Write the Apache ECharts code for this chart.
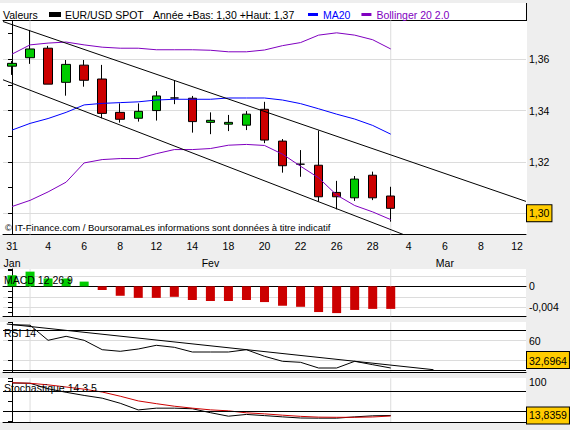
<!DOCTYPE html>
<html>
<head>
<meta charset="utf-8">
<title>EUR/USD SPOT</title>
<style>
html, body { margin: 0; padding: 0; background: #eeeeee; }
#chart { width: 570px; height: 430px; }
</style>
<script src="https://cdn.jsdelivr.net/npm/echarts@6/dist/echarts.min.js"></script>
</head>
<body>
<div id="chart"></div>
<script>
// jours de cotation (categories)
const dates = ['31/01', '01/02', '04/02', '05/02', '06/02', '07/02', '08/02', '11/02', '12/02', '13/02',
    '14/02', '15/02', '18/02', '19/02', '20/02', '21/02', '22/02', '25/02', '26/02', '27/02', '28/02',
    '01/03', '04/03', '05/03', '06/03', '07/03', '08/03', '11/03', '12/03'];
const monthNames = { '01': 'Jan', '02': 'Fev', '03': 'Mar' };
const monthLabelIdx = [0, 11, 24];

// bougies EUR/USD
const open  = [1.3573, 1.3606, 1.3643, 1.3510, 1.3577, 1.3523, 1.3393, 1.3370, 1.3400, 1.3449, 1.3448,
    1.3354, 1.3347, 1.3343, 1.3405, 1.3281, 1.3191, 1.3187, 1.3081, 1.3060, 1.3148, 1.3067];
const close = [1.3584, 1.3640, 1.3503, 1.3580, 1.3518, 1.3389, 1.3366, 1.3397, 1.3457, 1.3449, 1.3357,
    1.3362, 1.3354, 1.3386, 1.3285, 1.3185, 1.3191, 1.3064, 1.3064, 1.3133, 1.3060, 1.3019];
const low   = [1.3539, 1.3582, 1.3503, 1.3458, 1.3493, 1.3370, 1.3353, 1.3357, 1.3361, 1.3425, 1.3314,
    1.3308, 1.3320, 1.3324, 1.3273, 1.3158, 1.3142, 1.3045, 1.3015, 1.3048, 1.3051, 1.2967];
const high  = [1.3593, 1.3714, 1.3652, 1.3597, 1.3597, 1.3578, 1.3428, 1.3428, 1.3476, 1.3519, 1.3457,
    1.3393, 1.3383, 1.3398, 1.3434, 1.3289, 1.3246, 1.3322, 1.3126, 1.3145, 1.3162, 1.3103];

const ma20    = [1.3324, 1.3350, 1.3369, 1.3393, 1.3422, 1.3428, 1.3431, 1.3434, 1.3441, 1.3444, 1.3444,
    1.3444, 1.3449, 1.3449, 1.3449, 1.3441, 1.3427, 1.3407, 1.3386, 1.3367, 1.3342, 1.3308];
const bollUp  = [1.3620, 1.3656, 1.3663, 1.3667, 1.3656, 1.3647, 1.3643, 1.3643, 1.3637, 1.3637, 1.3637,
    1.3635, 1.3629, 1.3629, 1.3636, 1.3653, 1.3665, 1.3694, 1.3703, 1.3694, 1.3676, 1.3640];
const bollLow = [1.3026, 1.3050, 1.3083, 1.3121, 1.3196, 1.3209, 1.3213, 1.3213, 1.3232, 1.3248, 1.3248,
    1.3252, 1.3265, 1.3268, 1.3264, 1.3230, 1.3183, 1.3138, 1.3071, 1.3030, 1.3005, 1.2975];

// droites tracees (x = rang du jour)
const upperTrend = [[-0.5, 1.3747], [28.5, 1.3046]];
const lowerTrend = [[-0.5, 1.3520], [21.7, 1.2917]];

// indicateurs
const macdHist = [0.0021, 0.0028, 0.0015, 0.0015, 0.0009, -0.0007, -0.0018, -0.0022, -0.0022, -0.0020, -0.0026,
    -0.0028, -0.0028, -0.0026, -0.0030, -0.0037, -0.0039, -0.0049, -0.0051, -0.0045, -0.0043, -0.0043];
const rsi14 = [76.0, 75.5, 60.4, 64.4, 60.4, 51.0, 49.4, 51.7, 55.4, 53.4, 48.7,
    48.7, 48.7, 51.0, 44.4, 39.4, 38.4, 32.7, 32.7, 39.4, 36.0, 32.6964];
const rsiTrend = [[-0.29, 76.7], [23.37, 31.0]];
const stochK = [96.7, 96.0, 82.0, 73.0, 65.0, 58.0, 45.0, 28.0, 32.5, 32.5, 31.0,
    21.0, 12.0, 16.5, 13.5, 10.3, 7.4, 7.0, 7.0, 10.3, 13.0, 13.8359];
const stochD = [97.5, 96.0, 92.0, 86.5, 81.0, 73.7, 63.0, 51.0, 44.0, 37.5, 32.5,
    28.2, 25.7, 20.6, 18.0, 14.6, 11.6, 9.6, 9.2, 9.2, 10.0, 12.5];

// axes : bornes et libelles
const mainMin = 1.2917, mainMax = 1.3751, mainLabels = [1.30, 1.32, 1.34, 1.36];
const macdMin = -0.00571, macdMax = 0.0033, macdLabels = [0, -0.004];
const rsiMin = 28.7, rsiMax = 78.4, rsiLabels = [60], rsiLevels = [70, 30];
const stochMin = -2.8, stochMax = 108.7, stochLabels = [100], stochLevels = [75, 25];

const FONT = 'Liberation Sans';
const fmtComma = (v, d) => v.toFixed(d).replace('.', ',');
const inList = (list, v) => list.some(l => Math.abs(l - v) < 1e-7);
const monthStartIdx = dates.map((d, i) => i).filter(i => i > 0 && dates[i].slice(3) !== dates[i - 1].slice(3));
const lastClose = close[close.length - 1];
const rangeText = 'Année +Bas: ' + fmtComma(Math.min(...low), 2) + ' +Haut: ' + fmtComma(Math.max(...high), 2);

const grey = '#dcdcdc';
const green = '#00cc00';
const red = '#cc0000';
const purple = '#8000c0';

// lignes verticales de debut de mois (une serie par ligne, sur l'axe x numerique du panneau)
function monthLineSeries(xIdx, yIdx, yMin, yMax) {
    return monthStartIdx.map(i => ({
        type: 'line', xAxisIndex: xIdx, yAxisIndex: yIdx, z: 1, silent: true, symbol: 'none',
        data: [[i, yMin], [i, yMax]],
        lineStyle: { color: grey, width: 1 }
    }));
}
function valueBox(value, text, vAlign) {
    return {
        yAxis: value,
        lineStyle: { color: 'rgba(0,0,0,0)', width: 1 },
        label: {
            show: true, position: 'end', distance: 1, formatter: text,
            verticalAlign: vAlign,
            backgroundColor: '#ffcc00', borderColor: '#000', borderWidth: 1,
            padding: [3, 2, 2, 2], color: '#000', fontSize: 10.5, fontFamily: FONT
        }
    };
}
function levelLines(levels) {
    return levels.map(v => ({ yAxis: v, lineStyle: { color: '#000', type: 'solid', width: 1 }, label: { show: false } }));
}
const plainCat = (grid, pos, extra) => Object.assign({
    type: 'category', gridIndex: grid, data: dates, position: pos,
    axisLine: { onZero: false, lineStyle: { color: '#000' } },
    axisTick: { show: false }, axisLabel: { show: false }, splitLine: { show: false }
}, extra || {});
const hiddenX = grid => ({ type: 'value', gridIndex: grid, min: -0.5, max: 28.5, show: false });
const tickAxis = (grid, min, max, step, labels, fmt) => ({
    type: 'value', gridIndex: grid, position: 'right', min: min, max: max,
    minInterval: step, maxInterval: step,
    axisLine: { show: true, lineStyle: { color: '#000' } },
    axisTick: { show: true, inside: true, length: 4, lineStyle: { color: '#000' } },
    axisLabel: { margin: 3, color: '#000', fontSize: 10.5, fontFamily: FONT, formatter: v => inList(labels, v) ? fmt(v) : '' },
    splitLine: { show: false }
});
const gridAxis = (grid, min, max, step) => ({
    type: 'value', gridIndex: grid, position: 'right', min: min, max: max,
    minInterval: step, maxInterval: step,
    axisLine: { show: false }, axisTick: { show: false }, axisLabel: { show: false },
    splitLine: { show: true, showMinLine: false, showMaxLine: false, lineStyle: { color: grey } }
});
const plainLine = (name, xIdx, yIdx, data, color) => ({
    name: name, type: 'line', xAxisIndex: xIdx, yAxisIndex: yIdx, data: data, symbol: 'none', silent: true,
    itemStyle: { color: color }, lineStyle: { color: color, width: 1 }
});

const chart = echarts.init(document.getElementById('chart'), null, { renderer: 'svg' });
const option = {
    backgroundColor: '#eeeeee',
    animation: false,
    textStyle: { fontFamily: FONT, fontSize: 10.5, color: '#000' },
    grid: [
        { left: 3, right: 44, top: 20.5, height: 214 },
        { left: 3, right: 44, top: 269, height: 47.3 },
        { left: 3, right: 44, top: 322.3, height: 49.7 },
        { left: 3, right: 44, top: 378.3, height: 43.7 }
    ],
    legend: [
        {
            left: 49, top: 9, padding: 0, itemWidth: 10, itemHeight: 3, icon: 'rect', selectedMode: false,
            textStyle: { color: '#000', fontSize: 10.5, fontFamily: FONT },
            data: [{ name: 'EUR/USD SPOT', itemStyle: { color: '#000' } }]
        },
        {
            left: 308, top: 9, padding: 0, itemWidth: 10, itemHeight: 3, icon: 'rect', itemGap: 11, selectedMode: false,
            textStyle: { fontSize: 10.5, fontFamily: FONT },
            data: [
                { name: 'MA20', textStyle: { color: '#0000ff' } },
                { name: 'Bollinger 20 2.0', textStyle: { color: purple } }
            ]
        }
    ],
    xAxis: [
        {
            type: 'category', gridIndex: 0, data: dates, position: 'bottom',
            axisLine: { onZero: false, lineStyle: { color: '#000' } },
            axisTick: { alignWithLabel: true, interval: 0, length: 4, lineStyle: { color: '#000' } },
            axisLabel: { interval: 1, margin: 6, color: '#000', fontSize: 10.5, fontFamily: FONT, formatter: v => String(parseInt(v, 10)) },
            splitLine: { show: false }
        },
        {
            type: 'category', gridIndex: 0, data: dates, position: 'bottom', offset: 17,
            axisLine: { show: false, onZero: false }, axisTick: { show: false },
            axisLabel: { interval: 0, margin: 6, color: '#000', fontSize: 10.5, fontFamily: FONT,
                formatter: (v, i) => monthLabelIdx.includes(i) ? monthNames[v.slice(3)] : '' },
            splitLine: { show: false }
        },
        {
            type: 'value', gridIndex: 0, position: 'top', min: -0.5, max: 28.5,
            axisLine: { show: true, onZero: false, lineStyle: { color: '#000' } },
            axisTick: { show: false }, axisLabel: { show: false }, splitLine: { show: false }
        },
        plainCat(1, 'top', { axisLine: { onZero: true, lineStyle: { color: '#000' } } }),
        plainCat(1, 'bottom'),
        plainCat(2, 'bottom'),
        hiddenX(2),
        plainCat(3, 'bottom'),
        hiddenX(1),
        hiddenX(3)
    ],
    yAxis: [
        tickAxis(0, mainMin, mainMax, 0.01, mainLabels, v => fmtComma(v, 2)),
        gridAxis(0, mainMin, mainMax, 0.02),
        tickAxis(1, macdMin, macdMax, 0.001, macdLabels, v => String(+v.toFixed(3)).replace('.', ',')),
        gridAxis(1, macdMin, macdMax, 0.002),
        Object.assign(tickAxis(2, rsiMin, rsiMax, 20, rsiLabels, v => String(v)),
            { splitLine: { show: true, showMinLine: false, showMaxLine: false, lineStyle: { color: grey } } }),
        tickAxis(3, stochMin, stochMax, 50, stochLabels, v => String(v))
    ],
    series: [].concat(
        monthLineSeries(2, 0, mainMin, mainMax),
        monthLineSeries(8, 2, macdMin, macdMax),
        monthLineSeries(6, 4, rsiMin, rsiMax),
        monthLineSeries(9, 5, stochMin, stochMax),
        [
            {
                name: 'EUR/USD SPOT', type: 'candlestick', xAxisIndex: 0, yAxisIndex: 0, barWidth: 9, silent: true, clip: false,
                data: open.map((o, i) => [o, close[i], low[i], high[i]]),
                itemStyle: { color: green, color0: red, borderColor: '#000', borderColor0: '#000', borderWidth: 1 },
                markLine: { symbol: ['none', 'none'], silent: true, z: 5, data: [valueBox(lastClose, fmtComma(lastClose, 2), 'middle')] }
            },
            plainLine('MA20', 0, 0, ma20, '#0000ff'),
            plainLine('Bollinger 20 2.0', 0, 0, bollUp, purple),
            plainLine('Bollinger 20 2.0', 0, 0, bollLow, purple),
            plainLine('Canal haut', 2, 0, upperTrend, '#000'),
            plainLine('Canal bas', 2, 0, lowerTrend, '#000'),
            {
                name: 'MACD 12 26 9', type: 'bar', xAxisIndex: 3, yAxisIndex: 2, data: macdHist, barWidth: 9, silent: true,
                itemStyle: { color: p => p.value >= 0 ? green : red }
            },
            Object.assign(plainLine('RSI 14', 5, 4, rsi14, '#000'), {
                clip: false,
                markLine: {
                    symbol: ['none', 'none'], silent: true, z: 5,
                    data: levelLines(rsiLevels).concat([valueBox(rsi14[rsi14.length - 1], fmtComma(rsi14[rsi14.length - 1], 4), 'bottom')])
                }
            }),
            plainLine('RSI trend', 6, 4, rsiTrend, '#000'),
            Object.assign(plainLine('Stoch %K', 7, 5, stochK, '#000'), {
                clip: false,
                markLine: {
                    symbol: ['none', 'none'], silent: true, z: 5,
                    data: [valueBox(stochK[stochK.length - 1], fmtComma(stochK[stochK.length - 1], 4), 'middle')]
                }
            }),
            Object.assign(plainLine('Stoch %D', 7, 5, stochD, red), {
                markLine: { symbol: ['none', 'none'], silent: true, data: levelLines(stochLevels) }
            })
        ]
    ),
    graphic: [
        // fonds blancs des panneaux
        { type: 'rect', z: -10, silent: true, shape: { x: 0, y: 3, width: 527, height: 232 }, style: { fill: '#fff' } },
        { type: 'rect', z: -10, silent: true, shape: { x: 0, y: 269, width: 526, height: 48 }, style: { fill: '#fff' } },
        { type: 'rect', z: -10, silent: true, shape: { x: 0, y: 322, width: 526, height: 50 }, style: { fill: '#fff' } },
        { type: 'rect', z: -10, silent: true, shape: { x: 0, y: 378, width: 526, height: 44 }, style: { fill: '#fff' } },
        { type: 'line', z: 10, silent: true, shape: { x1: 526.5, y1: 3, x2: 526.5, y2: 21 }, style: { stroke: '#000', lineWidth: 1 } },
        // textes
        { type: 'text', z: 10, silent: true, x: 3, y: 15, style: { text: 'Valeurs', fill: '#000', font: '10.5px "' + FONT + '"', verticalAlign: 'middle' } },
        { type: 'text', z: 10, silent: true, x: 153, y: 15, style: { text: rangeText, fill: '#000', font: '10.5px "' + FONT + '"', verticalAlign: 'middle' } },
        { type: 'text', z: 10, silent: true, x: 5, y: 227, style: { text: '© IT-Finance.com / BoursoramaLes informations sont données à titre indicatif', fill: '#000', font: '9.5px "' + FONT + '"', verticalAlign: 'middle' } },
        { type: 'text', z: 10, silent: true, x: 4, y: 280, style: { text: 'MACD 12 26 9', fill: '#000', font: '10.5px "' + FONT + '"', verticalAlign: 'middle' } },
        { type: 'text', z: 10, silent: true, x: 4, y: 333, style: { text: 'RSI 14', fill: '#000', font: '10.5px "' + FONT + '"', verticalAlign: 'middle' } },
        { type: 'text', z: 10, silent: true, x: 4, y: 388, style: { text: 'Stochastique 14 3 5', fill: '#000', font: '10.5px "' + FONT + '"', verticalAlign: 'middle' } }
    ]
};
chart.setOption(option);
</script>
</body>
</html>
